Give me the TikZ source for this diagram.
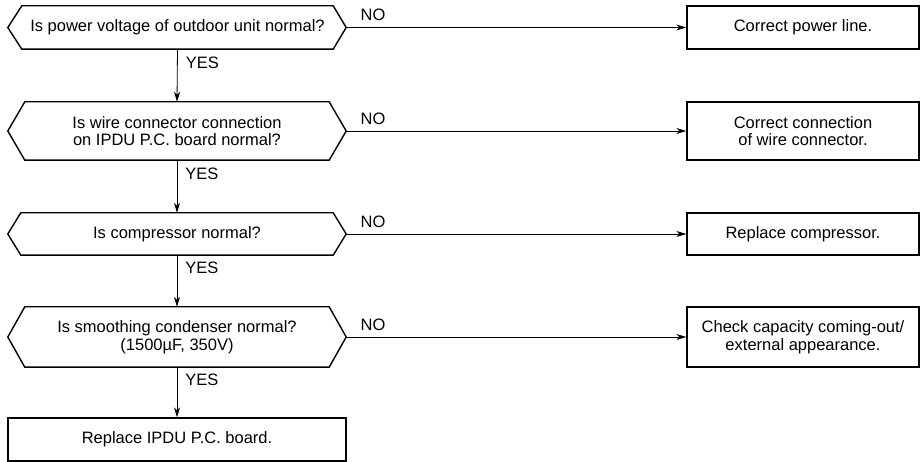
\documentclass[tikz,border=0pt]{standalone}
\usepackage{fontspec}
\setmainfont{Liberation Sans}
\usetikzlibrary{arrows.meta,calc}
\begin{document}
\begin{tikzpicture}[x=1pt,y=-1pt,
  txt/.style={font=\fontsize{16.5}{17.5}\selectfont, align=center, inner sep=0pt},
  qbox/.style={txt},
  abox/.style={txt, draw, line width=1.4pt, minimum width=232pt, minimum height=43pt},
  hexline/.style={line width=1.4pt, line join=miter},
  conn/.style={line width=0.8pt, -{Stealth[length=10pt,width=6pt,inset=3pt]}},
  lab/.style={font=\fontsize{16.5}{17.5}\selectfont, inner sep=0pt, anchor=west}]
\useasboundingbox (0,0) rectangle (924,462);
% questions
\node[qbox, minimum width=311pt, minimum height=43pt] (q1) at (177.5,27.5) {Is power voltage of outdoor unit normal?};
\node[qbox, minimum width=304pt, minimum height=58pt] (q2) at (177,131) {Is wire connector connection\\on IPDU P.C. board normal?};
\node[qbox, minimum width=312pt, minimum height=42pt] (q3) at (177,234) {Is compressor normal?};
\node[qbox, minimum width=304pt, minimum height=60pt] (q4) at (177,337) {Is smoothing condenser normal?\\(1500µF, 350V)};
\draw[hexline] ($(q1.west)+(-14,0)$) coordinate (q1l) -- (q1.north west) -- (q1.north east) -- ($(q1.east)+(13,0)$) coordinate (q1r) -- (q1.south east) -- (q1.south west) -- cycle;
\draw[hexline] ($(q2.west)+(-17,0)$) coordinate (q2l) -- (q2.north west) -- (q2.north east) -- ($(q2.east)+(17,0)$) coordinate (q2r) -- (q2.south east) -- (q2.south west) -- cycle;
\draw[hexline] ($(q3.west)+(-13,0)$) coordinate (q3l) -- (q3.north west) -- (q3.north east) -- ($(q3.east)+(13,0)$) coordinate (q3r) -- (q3.south east) -- (q3.south west) -- cycle;
\draw[hexline] ($(q4.west)+(-17,0)$) coordinate (q4l) -- (q4.north west) -- (q4.north east) -- ($(q4.east)+(17,0)$) coordinate (q4r) -- (q4.south east) -- (q4.south west) -- cycle;
% answers
\node[abox] (a1) at (803,27.5) {Correct power line.};
\node[abox, minimum height=58pt] (a2) at (803,131) {Correct connection\\of wire connector.};
\node[abox, minimum height=42pt] (a3) at (803,234) {Replace compressor.};
\node[abox, minimum height=60pt] (a4) at (803,337) {Check capacity coming-out/\\external appearance.};
\node[abox, minimum width=338pt] (a5) at (177,439.5) {Replace IPDU P.C. board.};
% NO connectors
\draw[conn] (q1r) -- (a1.west) node[lab, pos=0, above right, xshift=14pt, yshift=6pt] {NO};
\draw[conn] (q2r) -- (a2.west) node[lab, pos=0, above right, xshift=14pt, yshift=6pt] {NO};
\draw[conn] (q3r) -- (a3.west) node[lab, pos=0, above right, xshift=14pt, yshift=6pt] {NO};
\draw[conn] (q4r) -- (a4.west) node[lab, pos=0, above right, xshift=14pt, yshift=6pt] {NO};
% YES connectors
\draw[conn] (q1.south) -- (q2.north) node[lab, pos=0.25, right, xshift=8pt] {YES};
\draw[conn] (q2.south) -- (q3.north) node[lab, pos=0.25, right, xshift=8pt] {YES};
\draw[conn] (q3.south) -- (q4.north) node[lab, pos=0.25, right, xshift=8pt] {YES};
\draw[conn] (q4.south) -- (a5.north) node[lab, pos=0.25, right, xshift=8pt] {YES};
\end{tikzpicture}
\end{document}
